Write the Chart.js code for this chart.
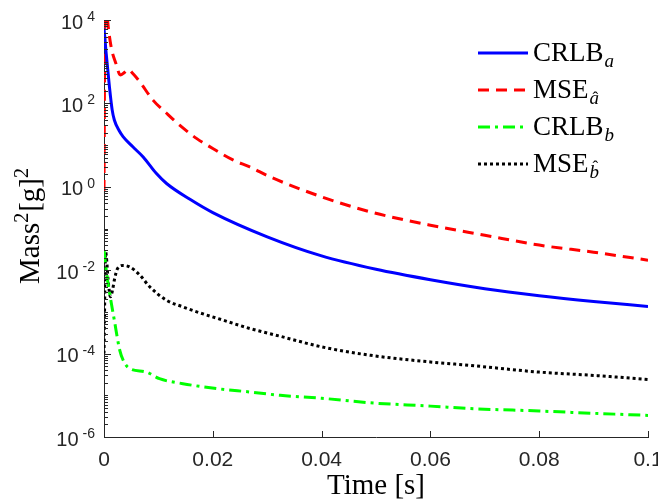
<!DOCTYPE html>
<html>
<head>
<meta charset="utf-8">
<script src="https://cdn.jsdelivr.net/npm/chart.js@4.4.0/dist/chart.umd.min.js"></script>
<style>
  html, body { margin: 0; background: #fff; }
  #wrap { width: 658px; height: 504px; }
</style>
</head>
<body>
<div id="wrap"><canvas id="massChart"></canvas></div>
<script>
// time axis [s] and values for each curve
const crlbA_t = [0, 0.0004, 0.001, 0.0015, 0.0019, 0.0028, 0.0035, 0.0053, 0.0072, 0.0096, 0.0115, 0.0158, 0.02, 0.03, 0.04, 0.05, 0.06, 0.07, 0.08, 0.09, 0.1];
const crlbA = [6300, 1580, 250, 70, 40, 22, 16, 9.1, 5.2, 2.1, 1.2, 0.5, 0.24, 0.063, 0.022, 0.0105, 0.0059, 0.0036, 0.00245, 0.00178, 0.00135];

const mseA_t = [0, 0.0002, 0.00065, 0.0013, 0.0022, 0.003, 0.0038, 0.0045, 0.0053, 0.0065, 0.009, 0.0115, 0.0139, 0.017, 0.02, 0.0237, 0.0268, 0.0305, 0.04, 0.049, 0.06, 0.07, 0.08, 0.09, 0.1];
const mseA = [0.8, 6e4, 1e4, 2300, 900, 480, 560, 650, 520, 340, 120, 58, 30, 14.5, 8.3, 4.4, 3.0, 1.74, 0.575, 0.25, 0.12, 0.069, 0.04, 0.027, 0.0174];

const crlbB_t = [0, 0.0005, 0.001, 0.0019, 0.0029, 0.0038, 0.0047, 0.0078, 0.0102, 0.0145, 0.0207, 0.0268, 0.0324, 0.04, 0.049, 0.06, 0.0674, 0.08, 0.09, 0.1];
const crlbB = [0.03, 0.008, 0.003, 6.3e-4, 1.2e-4, 5.9e-5, 4.4e-5, 3.6e-5, 2.5e-5, 1.9e-5, 1.45e-5, 1.2e-5, 1.0e-5, 8.5e-6, 6.6e-6, 5.5e-6, 4.8e-6, 4.2e-6, 3.7e-6, 3.3e-6];

const mseB_t = [0, 0.0003, 0.0008, 0.0012, 0.0016, 0.0019, 0.0025, 0.0035, 0.0047, 0.0066, 0.0084, 0.0115, 0.0145, 0.0176, 0.0207, 0.0268, 0.0324, 0.04, 0.049, 0.06, 0.0674, 0.08, 0.09, 0.1];
const mseB = [1e-4, 0.027, 0.005, 0.0023, 0.0035, 0.0058, 0.011, 0.013, 0.012, 0.0076, 0.004, 0.0019, 0.00132, 9.5e-4, 7.1e-4, 4.0e-4, 2.6e-4, 1.45e-4, 9.1e-5, 6.3e-5, 5.2e-5, 3.6e-5, 3.0e-5, 2.4e-5];

// legend text: main part + subscript letter, hat over subscript
const legendNames = ['CRLB', 'MSE', 'CRLB', 'MSE'];
const legendSubs = ['a', 'a', 'b', 'b'];
const legendHats = [false, true, false, true];

// tick labels
const xTicks = [0, 0.02, 0.04, 0.06, 0.08, 0.1];
const yTickExps = [-6, -4, -2, 0, 2, 4];

// axis titles (y title: text pieces, superscript flags)
const xTitle = 'Time [s]';
const yTitleParts = ['Mass', '2', '[g]', '2'];
const yTitleSup = [false, true, false, true];

const axisColor = '#262626';

function pts(ts, vs) {
    return ts.map((t, i) => ({x: t, y: vs[i]}));
}

// inward ticks + 10^n labels + y title + legend, MATLAB style
const matlabAxes = {
    id: 'matlabAxes',
    afterDatasetsDraw(chart) {
        const {ctx, chartArea: a, scales: {x, y}} = chart;
        ctx.save();
        ctx.strokeStyle = axisColor;
        ctx.lineWidth = 1;
        ctx.beginPath();
        for (let e = -6; e <= 4; e++) {
            for (let m = 1; m <= 9; m++) {
                if (e === 4 && m > 1) break;
                const py = Math.round(y.getPixelForValue(m * Math.pow(10, e))) + 0.5;
                const len = (m === 1 && e % 2 === 0) ? 7 : 4;
                ctx.moveTo(a.left, py);
                ctx.lineTo(a.left + len, py);
            }
        }
        xTicks.forEach(v => {
            const px = Math.round(x.getPixelForValue(v)) + 0.5;
            ctx.moveTo(px, a.bottom);
            ctx.lineTo(px, a.bottom - 6);
        });
        ctx.stroke();

        // y labels: 10 with raised exponent
        ctx.fillStyle = axisColor;
        ctx.textAlign = 'right';
        yTickExps.forEach(e => {
            const py = y.getPixelForValue(Math.pow(10, e));
            ctx.font = '14px "Liberation Sans"';
            ctx.textBaseline = 'alphabetic';
            const ex = String(e);
            ctx.fillText(ex, 95, py + 1);
            const w = ctx.measureText(ex).width;
            ctx.font = '20px "Liberation Sans"';
            ctx.textBaseline = 'middle';
            ctx.fillText('10', 95 - w - 4, py + 3);
        });

        // y title, rotated, with superscripts
        ctx.save();
        ctx.fillStyle = '#000';
        ctx.textAlign = 'left';
        ctx.textBaseline = 'alphabetic';
        const fonts = yTitleParts.map((p, i) => yTitleSup[i] ? '20px "Liberation Serif"' : '29px "Liberation Serif"');
        const widths = yTitleParts.map((p, i) => { ctx.font = fonts[i]; return ctx.measureText(p).width + (yTitleSup[i] ? 1 : 0); });
        const total = widths.reduce((s, w) => s + w, 0);
        ctx.translate(39, (a.top + a.bottom) / 2 - 3);
        ctx.rotate(-Math.PI / 2);
        let cx = -total / 2;
        yTitleParts.forEach((p, i) => {
            ctx.font = fonts[i];
            ctx.fillText(p, cx, yTitleSup[i] ? -11 : 0);
            cx += widths[i];
        });
        ctx.restore();

        // legend
        const ds = chart.data.datasets;
        ds.forEach((d, i) => {
            const ry = 53 + i * 37;
            ctx.save();
            ctx.strokeStyle = d.borderColor;
            ctx.lineWidth = d.borderWidth;
            ctx.setLineDash(d.borderDash || []);
            ctx.beginPath();
            ctx.moveTo(478, ry);
            ctx.lineTo(528, ry);
            ctx.stroke();
            ctx.restore();

            ctx.fillStyle = '#000';
            ctx.textAlign = 'left';
            ctx.textBaseline = 'alphabetic';
            ctx.font = '27px "Liberation Serif"';
            ctx.fillText(legendNames[i], 533, ry + 8);
            const w = ctx.measureText(legendNames[i]).width;
            ctx.font = 'italic 19px "Liberation Serif"';
            const sx = 533 + w + 1;
            const sy = ry + 14;
            ctx.fillText(legendSubs[i], sx, sy);
            if (legendHats[i]) {
                const sw = ctx.measureText(legendSubs[i]).width;
                ctx.font = '17px "Liberation Serif"';
                ctx.textAlign = 'center';
                const lift = legendSubs[i] === 'b' ? 6 : 1;
                ctx.fillText('\u02C6', sx + sw / 2 + 1, sy - lift);
            }
        });
        ctx.restore();
    }
};

const datasets = [
    {label: 'CRLB_a', data: pts(crlbA_t, crlbA), borderColor: '#0000ff', borderWidth: 3, borderDash: []},
    {label: 'MSE_a^', data: pts(mseA_t, mseA), borderColor: '#ff0000', borderWidth: 3, borderDash: [11, 7]},
    {label: 'CRLB_b', data: pts(crlbB_t, crlbB), borderColor: '#00ff00', borderWidth: 3, borderDash: [12, 5, 3, 5]},
    {label: 'MSE_b^', data: pts(mseB_t, mseB), borderColor: '#000000', borderWidth: 3, borderDash: [3, 3]}
];
datasets.forEach(d => {
    d.pointRadius = 0;
    d.cubicInterpolationMode = 'monotone';
    d.fill = false;
    d.borderCapStyle = 'butt';
    d.borderJoinStyle = 'round';
});

new Chart(document.getElementById('massChart'), {
    type: 'line',
    data: {datasets: datasets},
    plugins: [matlabAxes],
    options: {
        responsive: true,
        maintainAspectRatio: false,
        animation: false,
        devicePixelRatio: 1,
        layout: {padding: {left: 0, top: 20, right: 10, bottom: 0}},
        plugins: {legend: {display: false}, tooltip: {enabled: false}},
        scales: {
            x: {
                type: 'linear',
                min: 0,
                max: 0.1,
                afterBuildTicks: s => { s.ticks = xTicks.map(v => ({value: v})); },
                afterFit: s => { s.height = 67; s.paddingLeft = 0; s.paddingRight = 0; },
                grid: {drawOnChartArea: false, drawTicks: false},
                border: {color: axisColor, width: 1},
                ticks: {
                    autoSkip: false,
                    maxRotation: 0,
                    padding: 11,
                    color: axisColor,
                    font: {family: 'Liberation Sans', size: 21},
                    callback: v => String(+v.toFixed(2))
                },
                title: {
                    display: true,
                    text: xTitle,
                    color: '#000',
                    font: {family: 'Liberation Serif', size: 29},
                    padding: {top: 0, bottom: 0}
                }
            },
            y: {
                type: 'logarithmic',
                min: 1e-6,
                max: 1e4,
                afterFit: s => { s.width = 104; },
                grid: {drawOnChartArea: false, drawTicks: false},
                border: {color: axisColor, width: 1},
                ticks: {display: false}
            }
        }
    }
});
</script>
</body>
</html>
